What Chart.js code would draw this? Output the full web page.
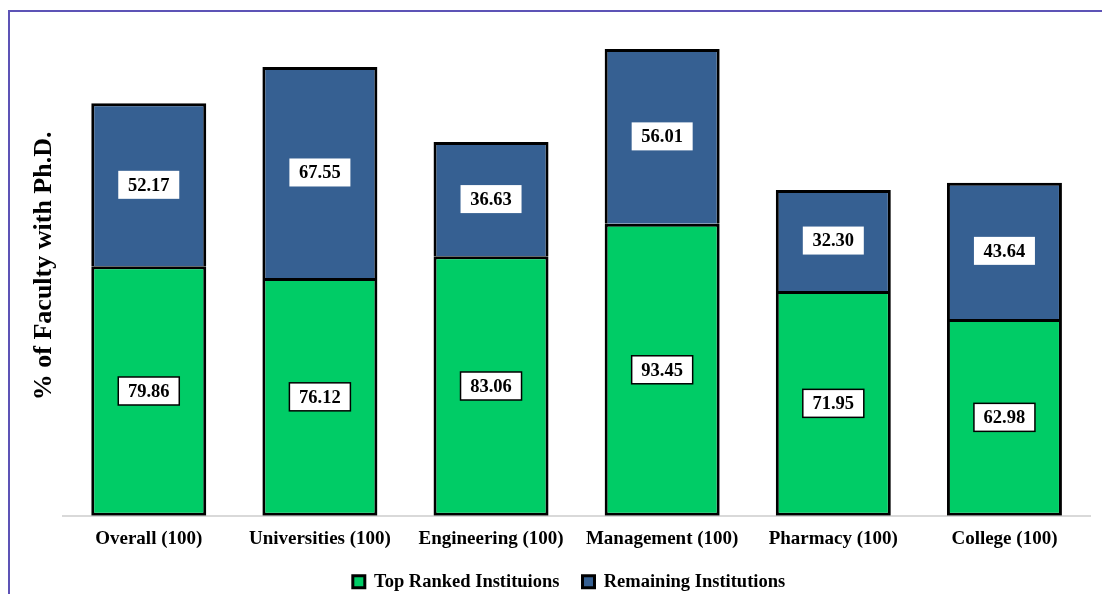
<!DOCTYPE html>
<html>
<head>
<meta charset="utf-8">
<script src="https://cdn.jsdelivr.net/npm/chart.js@4/dist/chart.umd.min.js"></script>
<style>
  html, body { margin: 0; padding: 0; background: #fff; overflow: hidden; }
  #wrap { position: relative; width: 1102px; height: 594px; }
  #frame { position: absolute; left: 8px; top: 10px; width: 1200px; height: 700px; border-left: 2px solid #5d53b6; border-top: 2px solid #5d53b6; }
  canvas { position: absolute; left: 0; top: 0; }
</style>
</head>
<body>
<div id="wrap">
  <div id="frame"></div>
  <canvas id="chart" width="1102" height="594"></canvas>
</div>
<script>
const categories = ['Overall (100)', 'Universities (100)', 'Engineering (100)', 'Management (100)', 'Pharmacy (100)', 'College (100)'];
const topRanked = [79.86, 76.12, 83.06, 93.45, 71.95, 62.98];
const remaining = [52.17, 67.55, 36.63, 56.01, 32.30, 43.64];

const serif = '"Liberation Serif", "DejaVu Serif", serif';

const valueBoxes = {
  id: 'valueBoxes',
  afterDatasetsDraw(chart) {
    const ctx = chart.ctx;
    ctx.save();
    ctx.font = 'bold 18.5px ' + serif;
    ctx.textAlign = 'center';
    ctx.textBaseline = 'middle';
    chart.data.datasets.forEach((ds, i) => {
      chart.getDatasetMeta(i).data.forEach((bar, j) => {
        const p = bar.getProps(['x', 'y', 'base'], true);
        const cy = (p.y + p.base) / 2;
        const w = 61, h = 28;
        ctx.fillStyle = '#fff';
        ctx.fillRect(p.x - w / 2, cy - h / 2, w, h);
        if (i === 0) {
          ctx.strokeStyle = '#000';
          ctx.lineWidth = 1.5;
          ctx.strokeRect(p.x - w / 2, cy - h / 2, w, h);
        }
        ctx.fillStyle = '#000';
        ctx.fillText(ds.data[j].toFixed(2), p.x, cy + 1);
      });
    });
    ctx.restore();
  }
};

// legend padding also sets the gap between items; pull the row back up
const legendNudge = {
  id: 'legendNudge',
  afterLayout(chart) {
    const lg = chart.legend;
    lg.top -= 13;
    lg.bottom -= 13;
    lg.left += 12;
    lg.right += 12;
  }
};

new Chart(document.getElementById('chart'), {
  type: 'bar',
  data: {
    labels: categories,
    datasets: [{
      label: 'Top Ranked Instituions',
      data: topRanked,
      backgroundColor: '#00cc66',
      borderColor: '#000',
      borderWidth: 3,
      borderSkipped: false,
      barPercentage: 0.672,
      categoryPercentage: 1
    }, {
      label: 'Remaining Institutions',
      data: remaining,
      backgroundColor: '#366092',
      borderColor: '#000',
      borderWidth: 3,
      borderSkipped: 'start',
      barPercentage: 0.672,
      categoryPercentage: 1
    }]
  },
  options: {
    responsive: false,
    animation: false,
    layout: { padding: { left: 24, right: 12, top: 16, bottom: -20 } },
    plugins: {
      legend: {
        position: 'bottom',
        labels: {
          color: '#000',
          font: { family: serif, size: 18.5, weight: 'bold' },
          boxWidth: 12,
          boxHeight: 12,
          padding: 23
        }
      },
      tooltip: { enabled: false }
    },
    scales: {
      x: {
        stacked: true,
        grid: { display: false, drawTicks: false },
        border: { color: '#d9d9d9', width: 2 },
        ticks: {
          color: '#000',
          padding: 12,
          font: { family: serif, size: 19, weight: 'bold' }
        }
      },
      y: {
        stacked: true,
        min: 0,
        max: 160,
        grid: { display: false, drawTicks: false },
        border: { display: false },
        ticks: { display: false },
        title: {
          display: true,
          text: '% of Faculty with Ph.D.',
          color: '#000',
          padding: { top: 5, bottom: 3 },
          font: { family: serif, size: 26, weight: 'bold' }
        }
      }
    }
  },
  plugins: [valueBoxes, legendNudge]
});
</script>
</body>
</html>
